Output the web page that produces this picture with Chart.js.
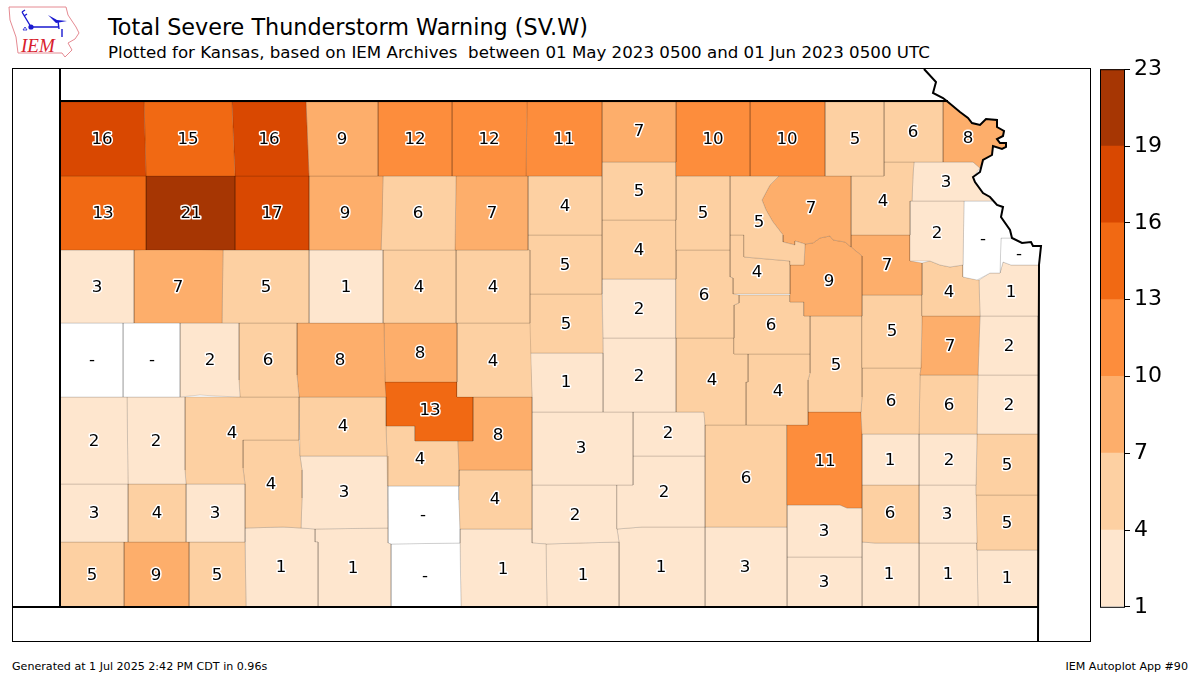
<!DOCTYPE html>
<html>
<head>
<meta charset="utf-8">
<title>Total Severe Thunderstorm Warning (SV.W)</title>
<script src="https://cdn.jsdelivr.net/npm/chart.js@4/dist/chart.umd.min.js"></script>
<style>
    html, body { margin: 0; padding: 0; background: #fff; overflow: hidden; }
    body { width: 1200px; height: 675px; position: relative; font-family: "DejaVu Sans", sans-serif; color: #000; }
    canvas { position: absolute; }
    .txt { position: absolute; white-space: pre; line-height: 1; }
    #logo { position: absolute; left: 0; top: 0; }
</style>
</head>
<body>
<svg id="logo" width="90" height="64">
    <path d="M9 7 L66 7 L68 15 L76 27 L79 33 L75 39 L68 43 L72 50 L65 57 L62 53 L18 53 L16 37 L10 20 Z" fill="none" stroke="#e58a92" stroke-width="1"/>
    <path d="M31 27 L58 27 M58 21 L59 29 M62 29 L62 37 M31 27 L22 12 M22 12 L25 10 M24 16 L27 14" fill="none" stroke="#1a1ad0" stroke-width="1.4"/>
    <path d="M48 15 L57 20 L67 21 L56 23 Z" fill="#1a1ad0"/>
    <path d="M23 30 L25 27 L27 30 Z" fill="none" stroke="#1a1ad0" stroke-width="0.8"/>
    <circle cx="31" cy="27" r="2.6" fill="#1a1ad0"/>
    <text x="21" y="52" font-family="Liberation Serif" font-style="italic" font-size="19" fill="#d8202c">IEM</text>
</svg>
<div class="txt" style="left:108px;top:16px;font-size:22.3px">Total Severe Thunderstorm Warning (SV.W)</div>
<div class="txt" style="left:108px;top:45px;font-size:16.67px">Plotted for Kansas, based on IEM Archives  between 01 May 2023 0500 and 01 Jun 2023 0500 UTC</div>
<div class="txt" style="left:12px;top:661px;font-size:11.1px">Generated at 1 Jul 2025 2:42 PM CDT in 0.96s</div>
<div class="txt" style="right:12px;top:661px;font-size:11.1px">IEM Autoplot App #90</div>
<canvas id="mapChart" width="1200" height="675" style="left:0;top:0"></canvas>
<canvas id="barChart" width="110" height="572" style="left:1090px;top:52px"></canvas>
<script>
// Warning counts per county, null where the archive has none
const countyNames = [
    'Cheyenne', 'Rawlins', 'Decatur', 'Norton', 'Phillips', 'Smith', 'Jewell', 'Republic', 'Washington', 'Marshall', 'Nemaha', 'Brown', 'Doniphan',
    'Sherman', 'Thomas', 'Sheridan', 'Graham', 'Rooks', 'Osborne', 'Mitchell', 'Cloud', 'Clay', 'Riley', 'Pottawatomie', 'Jackson', 'Atchison', 'Jefferson', 'Leavenworth', 'Wyandotte',
    'Wallace', 'Logan', 'Gove', 'Trego', 'Ellis', 'Russell', 'Lincoln', 'Ottawa', 'Dickinson', 'Geary', 'Wabaunsee', 'Shawnee', 'Douglas', 'Johnson',
    'Greeley', 'Wichita', 'Scott', 'Lane', 'Ness', 'Rush', 'Barton', 'Ellsworth', 'Saline', 'Morris', 'Osage', 'Franklin', 'Miami',
    'Hamilton', 'Kearny', 'Finney', 'Hodgeman', 'Pawnee', 'Stafford', 'Rice', 'McPherson', 'Marion', 'Chase', 'Lyon', 'Coffey', 'Anderson', 'Linn',
    'Stanton', 'Grant', 'Haskell', 'Gray', 'Ford', 'Edwards', 'Pratt', 'Reno', 'Harvey', 'Sedgwick', 'Butler', 'Greenwood', 'Woodson', 'Allen', 'Bourbon',
    'Morton', 'Stevens', 'Seward', 'Meade', 'Clark', 'Kiowa', 'Comanche', 'Barber', 'Kingman', 'Harper', 'Sumner', 'Cowley', 'Elk', 'Chautauqua', 'Wilson', 'Neosho', 'Crawford', 'Montgomery', 'Labette', 'Cherokee'
];
const countyValues = [
    16, 15, 16, 9, 12, 12, 11, 7, 10, 10, 5, 6, 8,
    13, 21, 17, 9, 6, 7, 4, 5, 5, 5, 7, 4, 3, 2, null, null,
    3, 7, 5, 1, 4, 4, 5, 4, 6, 4, 9, 7, 4, 1,
    null, null, 2, 6, 8, 8, 4, 5, 2, 6, 5, 7, 2,
    2, 2, 4, 4, 13, 8, 1, 2, 4, 4, 5, 6, 6, 2,
    3, 4, 3, 4, 3, 4, 4, 3, 2, 2, 11, 6, 1, 2, 5,
    5, 9, 5, 1, 1, null, null, 1, 2, 1, 1, 3, 3, 3, 6, 3, 5, 1, 1, 1
];

// County outlines as x,y runs in map units, same order as countyNames
const countyOutlines = [
    [60,102, 144,102, 146,176, 60,176],
    [144,102, 232,102, 235,176, 146,176],
    [232,102, 306,102, 309,176, 235,176],
    [306,102, 378,102, 378,176, 309,176],
    [378,102, 452,102, 452,176, 378,176],
    [452,102, 527,102, 526,176, 452,176],
    [527,102, 602,102, 602,176, 526,176],
    [602,102, 676,102, 676,162, 602,162],
    [676,102, 750,102, 750,176, 676,176],
    [750,102, 825,102, 825,176, 750,176],
    [825,102, 884,102, 884,176, 825,176],
    [884,102, 943,102, 943,162, 884,162],
    [943,102, 948,102, 960,112, 968,118, 972,123, 980,125, 986,119, 997,120, 997,127, 1004,131, 1003,136, 997,139, 1000,143, 1006,143, 1006,147, 1002,149, 993,146, 992,155, 983,160, 980,168, 973,162, 943,162],

    [60,176, 146,176, 146,250, 60,250],
    [146,176, 235,176, 235,250, 146,250],
    [235,176, 309,176, 309,250, 235,250],
    [309,176, 383,176, 382,225, 381,250, 309,250],
    [383,176, 456,176, 455,250, 381,250],
    [456,176, 528,176, 528,250, 455,250],
    [528,176, 602,176, 602,235, 528,235],
    [602,162, 676,162, 676,220, 602,220],
    [676,176, 730,176, 730,250, 676,250],
    [730,176, 779,176, 770,185, 762,200, 766,210, 773,222, 783,235, 783,242, 795,245, 795,241, 805,244, 804,265, 790,265, 790,261, 744,257, 744,235, 730,235],
    [779,176, 851,176, 851,235, 851,247, 845,242, 833,240, 830,236, 820,238, 813,243, 805,244, 795,241, 795,245, 783,242, 783,235, 773,222, 766,210, 762,200, 770,185],
    [851,176, 884,176, 884,162, 914,162, 913,175, 912,201, 910,201, 910,235, 851,235],
    [914,162, 973,162, 980,168, 973,177, 975,182, 983,193, 990,197, 992,201, 912,201, 913,175],
    [910,201, 964,201, 963,265, 950,267, 940,265, 930,261, 920,261, 910,261],
    [964,201, 992,201, 997,205, 1003,207, 1001,217, 1010,230, 1012,238, 1001,238, 1000,273, 990,273, 977,280, 963,277, 963,265],
    [1001,238, 1012,238, 1022,243, 1031,242, 1033,246, 1041,246, 1039,265, 1011,265, 1003,262, 1000,273],

    [60,250, 134,250, 134,323, 60,323],
    [134,250, 150,249, 175,249, 223,250, 222,323, 134,323],
    [223,250, 309,250, 309,323, 222,323],
    [309,250, 383,250, 383,323, 309,323],
    [383,250, 456,250, 456,323, 383,323],
    [456,250, 530,250, 530,323, 456,323],
    [528,235, 602,235, 602,294, 528,294],
    [602,220, 676,220, 676,279, 602,279],
    [676,250, 730,250, 730,277, 733,278, 733,294, 739,295, 739,303, 734,305, 734,338, 676,338],
    [730,235, 744,235, 744,257, 790,261, 790,294, 733,294, 733,278, 730,277],
    [790,261, 790,265, 804,265, 805,244, 813,243, 820,238, 830,236, 833,240, 845,242, 851,247, 857,252, 862,256, 862,316, 804,316, 804,302, 790,302],
    [851,235, 910,235, 910,261, 922,263, 922,295, 862,295, 862,256, 857,252, 851,247],
    [922,263, 930,261, 940,265, 950,267, 963,265, 963,277, 979,280, 980,316, 922,316],
    [1003,262, 1011,265, 1039,265, 1038,316, 980,316, 979,280, 990,273, 1000,273],

    [60,323, 123,323, 123,397, 60,397],
    [123,323, 180,323, 180,397, 123,397],
    [180,323, 239,323, 239,380, 240,397, 215,396, 200,395, 190,396, 180,397],
    [239,323, 297,323, 297,375, 299,397, 240,397, 239,380],
    [297,323, 384,323, 385,382, 386,397, 299,397, 297,375],
    [384,323, 457,323, 457,382, 385,382],
    [457,323, 530,323, 532,397, 457,397],
    [528,294, 602,294, 603,353, 530,353],
    [602,279, 676,279, 676,338, 603,338],
    [739,295, 790,295, 790,302, 804,302, 804,316, 810,316, 810,354, 734,354, 734,305, 739,303],
    [862,295, 922,295, 922,316, 921,368, 862,368],
    [922,316, 980,316, 979,345, 978,375, 920,375, 921,368],
    [980,316, 1038,316, 1038,375, 978,375, 979,345],

    [60,397, 127,397, 128,484, 60,484],
    [127,397, 185,397, 185,470, 186,484, 128,484],
    [185,397, 299,397, 299,440, 243,440, 243,468, 245,484, 186,484, 185,470],
    [299,397, 386,397, 386,426, 387,456, 300,456],
    [385,382, 457,382, 457,397, 473,397, 473,441, 415,441, 415,426, 386,426],
    [473,397, 532,397, 532,470, 459,470, 458,441, 473,441],
    [530,353, 603,353, 603,412, 532,412, 532,397],
    [603,338, 676,338, 676,412, 603,412],
    [676,338, 734,338, 734,354, 748,354, 748,382, 746,382, 746,425, 705,425, 704,412, 676,412],
    [748,354, 810,354, 810,373, 808,380, 808,425, 746,425, 746,382, 748,382],
    [810,316, 862,316, 862,397, 861,412, 808,412, 808,380, 810,373],
    [862,368, 921,368, 920,375, 919,434, 862,434, 861,412, 862,397],
    [920,375, 978,375, 977,434, 919,434],
    [978,375, 1038,375, 1038,434, 977,434],

    [60,484, 128,484, 128,542, 60,542],
    [128,484, 186,484, 186,542, 128,542],
    [186,484, 245,484, 245,542, 186,542],
    [243,440, 299,440, 300,456, 302,470, 302,498, 301,528, 283,527, 245,528, 245,484, 243,468],
    [300,456, 387,456, 388,486, 388,528, 315,529, 301,528, 302,498, 302,470],
    [386,426, 415,426, 415,441, 458,441, 459,470, 459,486, 388,486, 387,456],
    [459,470, 532,470, 532,529, 460,529, 459,500],
    [532,412, 633,412, 633,456, 633,485, 532,485],
    [633,412, 704,412, 705,425, 705,456, 633,456],
    [633,456, 705,456, 705,527, 642,527, 617,529, 617,485, 633,485],
    [808,412, 861,412, 862,434, 862,485, 862,508, 847,508, 840,505, 787,505, 787,425, 808,425],
    [705,425, 787,425, 787,505, 787,527, 705,527],
    [862,434, 919,434, 919,485, 862,485],
    [919,434, 977,434, 976,485, 919,485],
    [977,434, 1038,434, 1038,495, 976,495],

    [60,542, 124,542, 124,607, 60,607],
    [124,542, 189,542, 189,607, 124,607],
    [189,542, 245,542, 246,607, 189,607],
    [245,528, 283,527, 301,528, 315,529, 315,542, 318,542, 318,607, 246,607],
    [315,529, 388,528, 388,543, 391,544, 391,607, 318,607, 318,542, 315,542],
    [388,486, 459,486, 459,500, 460,529, 460,543, 391,544, 388,543],
    [391,544, 460,543, 461,607, 391,607],
    [460,529, 532,529, 532,543, 546,544, 547,607, 461,607, 460,543],
    [532,485, 617,485, 617,529, 619,542, 580,543, 546,544, 532,543],
    [546,544, 580,543, 619,542, 619,607, 547,607],
    [617,529, 642,527, 705,527, 705,607, 619,607, 619,542],
    [705,527, 787,527, 787,557, 787,607, 705,607],
    [787,505, 840,505, 847,508, 862,508, 862,557, 787,557],
    [787,557, 862,557, 862,607, 787,607],
    [862,485, 919,485, 919,543, 895,543, 875,543, 862,542],
    [919,485, 976,485, 977,543, 919,543],
    [976,495, 1038,495, 1038,550, 977,550],
    [862,542, 875,543, 895,543, 919,543, 919,607, 862,607],
    [919,543, 977,543, 977,550, 978,607, 919,607],
    [977,550, 1038,550, 1038,607, 978,607]
];

// Where each county's number sits, map units, same order again
const countyLabelX = [
    102, 188, 269, 342, 415, 489, 564, 639, 713, 787, 855, 913, 968,
    103, 191, 272, 345, 418, 492, 565, 639, 703, 759, 811, 883, 946, 937, 983, 1019,
    97, 178, 266, 346, 419, 493, 565, 639, 704, 757, 829, 887, 949, 1011,
    92, 152, 210, 268, 340, 420, 493, 566, 639, 771, 892, 950, 1009,
    94, 156, 232, 343, 430, 498, 566, 639, 712, 778, 836, 891, 949, 1009,
    94, 157, 215, 271, 344, 420, 495, 581, 668, 664, 825, 746, 890, 949, 1007,
    92, 156, 217, 281, 353, 423, 425, 503, 575, 583, 661, 745, 824, 824, 890, 947, 1007, 889, 948, 1007
];
const countyLabelY = [
    138, 138, 138, 138, 138, 138, 138, 130, 138, 138, 138, 131, 137,
    212, 212, 212, 212, 212, 212, 205, 190, 212, 221, 207, 200, 181, 232, 238, 253,
    286, 286, 286, 286, 286, 286, 264, 249, 294, 271, 280, 264, 291, 291,
    359, 359, 359, 359, 359, 352, 360, 323, 308, 324, 330, 345, 345,
    440, 440, 432, 425, 409, 434, 381, 375, 379, 390, 364, 400, 404, 404,
    512, 512, 512, 483, 491, 458, 498, 447, 432, 491, 460, 477, 459, 459, 464,
    574, 574, 574, 566, 567, 514, 575, 568, 514, 574, 566, 566, 530, 581, 512, 513, 522, 573, 573, 577
];

// Black state line and the river beyond it
const stateOutlines = [
    [60,68, 60,607],
    [60,101, 948,101],
    [12,607, 1038,607],
    [924,69, 936,82, 933,93, 943,98, 948,102, 960,112, 968,118, 972,123, 980,125, 986,119, 997,120, 997,127, 1004,131, 1003,136, 997,139, 1000,143, 1006,143, 1006,147, 1002,149, 993,146, 992,155, 983,160, 980,172, 973,177, 975,182, 983,193, 990,197, 997,205, 1003,207, 1001,217, 1010,230, 1012,238, 1022,243, 1031,242, 1033,246, 1041,246, 1039,265, 1038,641]
];

// Colour bar
const binTicks = [1, 4, 7, 10, 13, 16, 19, 23];
const binColors = ['#fee6ce', '#fdd0a2', '#fdae6b', '#fd8d3c', '#f16913', '#d94801', '#a63603'];

function colorForValue(value) {
    if (value === null) return '#ffffff';
    let bin = 0;
    for (let i = 0; i < binColors.length; i++) {
        if (value >= binTicks[i]) bin = i;
    }
    return binColors[bin];
}

// Turn a flat x,y run into scatter points
function toPoints(run, closed) {
    const points = [];
    for (let i = 0; i < run.length; i += 2) {
        points.push({ x: run[i], y: run[i + 1] });
    }
    if (closed) points.push(points[0]);
    return points;
}

// Numbers with their white halo, placed through the scales
const countyLabelPlugin = {
    id: 'countyLabels',
    afterDatasetsDraw(chart) {
        const { ctx, scales } = chart;
        ctx.save();
        ctx.font = '16.67px "DejaVu Sans"';
        ctx.textAlign = 'center';
        ctx.textBaseline = 'middle';
        ctx.lineJoin = 'round';
        countyValues.forEach((value, i) => {
            const text = value === null ? '-' : String(value);
            const px = scales.x.getPixelForValue(countyLabelX[i]);
            const py = scales.y.getPixelForValue(countyLabelY[i]) + 1.5;
            ctx.lineWidth = 3;
            ctx.strokeStyle = '#fff';
            ctx.strokeText(text, px, py);
            ctx.fillStyle = '#000';
            ctx.fillText(text, px, py);
        });
        ctx.restore();
    }
};

// Box around the plot area
const framePlugin = {
    id: 'frame',
    afterDraw(chart) {
        const { ctx, chartArea } = chart;
        ctx.save();
        ctx.strokeStyle = '#000';
        ctx.lineWidth = 1;
        ctx.strokeRect(chartArea.left + 0.5, chartArea.top + 0.5, chartArea.right - chartArea.left, chartArea.bottom - chartArea.top);
        ctx.restore();
    }
};

function initializeMapChart() {
    const ctx = document.getElementById('mapChart');
    const datasets = [];

    stateOutlines.forEach((run, i) => {
        datasets.push({
            label: 'state ' + i,
            data: toPoints(run, false),
            showLine: true,
            fill: false,
            borderColor: '#000',
            borderWidth: 2,
            pointRadius: 0,
            order: 0
        });
    });

    countyNames.forEach((name, i) => {
        datasets.push({
            label: name,
            data: toPoints(countyOutlines[i], true),
            showLine: true,
            fill: 'shape',
            backgroundColor: colorForValue(countyValues[i]),
            borderColor: 'rgba(0, 0, 0, 0.13)',
            borderWidth: 1,
            pointRadius: 0,
            order: 1
        });
    });

    new Chart(ctx, {
        type: 'scatter',
        data: { datasets: datasets },
        options: {
            responsive: false,
            animation: false,
            devicePixelRatio: 1,
            layout: { padding: { left: 12, top: 68, right: 110, bottom: 34 } },
            plugins: { legend: { display: false }, tooltip: { enabled: false }, title: { display: false } },
            scales: {
                x: { type: 'linear', display: false, min: 12, max: 1090 },
                y: { type: 'linear', display: false, min: 68, max: 641, reverse: true }
            }
        },
        plugins: [countyLabelPlugin, framePlugin]
    });
}

function initializeBarChart() {
    const ctx = document.getElementById('barChart');

    new Chart(ctx, {
        type: 'bar',
        data: {
            labels: ['warnings'],
            datasets: binColors.map((color, i) => ({
                label: binTicks[i] + '-' + binTicks[i + 1],
                data: [1],
                backgroundColor: color,
                barPercentage: 1,
                categoryPercentage: 1
            }))
        },
        options: {
            responsive: false,
            animation: false,
            devicePixelRatio: 1,
            layout: { padding: { left: 10, top: 14, bottom: 14, right: 0 } },
            plugins: { legend: { display: false }, tooltip: { enabled: false }, title: { display: false } },
            scales: {
                x: { stacked: true, display: false },
                y: {
                    stacked: true,
                    position: 'right',
                    min: 0,
                    max: binColors.length,
                    afterFit: scale => { scale.width = 76; },
                    border: { display: true, color: '#000' },
                    grid: { drawOnChartArea: false, drawTicks: true, tickLength: 6, color: '#000' },
                    ticks: {
                        stepSize: 1,
                        padding: 4,
                        color: '#000',
                        font: { family: 'DejaVu Sans', size: 22 },
                        callback: value => binTicks[value]
                    }
                }
            }
        },
        plugins: [framePlugin]
    });
}

document.addEventListener('DOMContentLoaded', function() {
    initializeMapChart();
    initializeBarChart();
});
</script>
</body>
</html>
